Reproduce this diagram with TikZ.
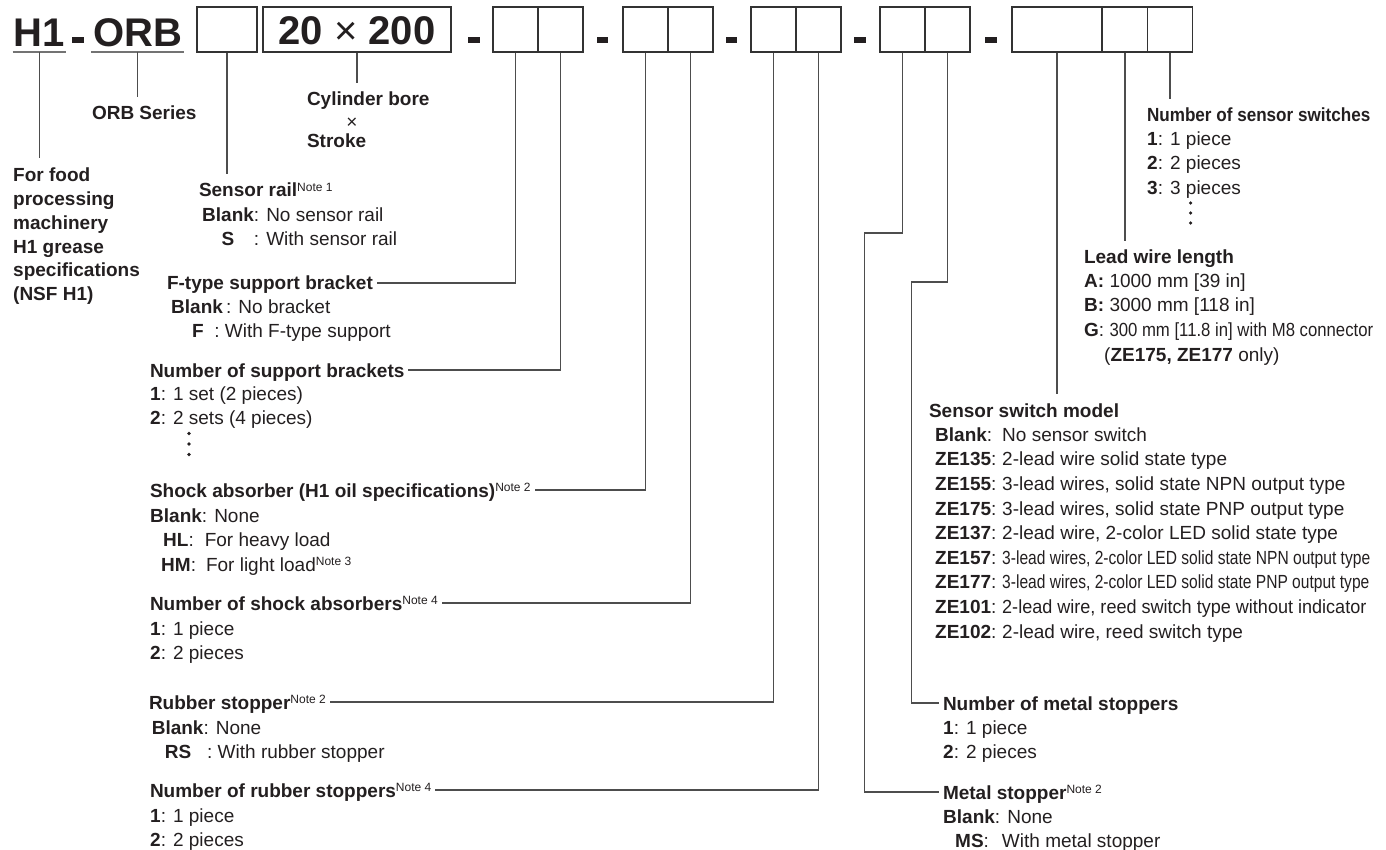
\documentclass[tikz,border=0pt]{standalone}
\usepackage{fontspec}
\setmainfont{Liberation Sans}
\usepackage{calc}
\usetikzlibrary{positioning}
\definecolor{ink}{HTML}{231F20}
\definecolor{wire}{HTML}{4D4D4D}
\newcommand{\noteref}[1]{\raisebox{5.5pt}{\mdseries\fontsize{12}{12}\selectfont Note #1}}
\newcommand{\keyw}[2]{\makebox[#1][l]{\textbf{#2}:}}

\tikzset{
  codetext/.style={font=\fontsize{40}{40}\selectfont\bfseries, text=ink, inner ysep=5pt, text depth=0pt, anchor=south west},
  codebox/.style={draw=black!80, line width=1.1pt, minimum height=45pt, inner sep=0pt, text height=31pt, text depth=0pt, font=\fontsize{40}{40}\selectfont\bfseries, text=ink},
  pairbox/.style={codebox, minimum width=45pt},
  sepmark/.style={fill=ink, minimum width=11.5pt, minimum height=6pt, inner sep=0pt},
  uline/.style={draw=black!55, line width=1.6pt},
  head/.style={font=\fontsize{19}{24}\selectfont\bfseries, text=ink, inner xsep=0pt, inner ysep=8pt, outer xsep=4pt, text height=15pt, text depth=1pt, anchor=base west, xshift=-4pt},
  opts/.style={font=\fontsize{19}{24.6}\selectfont, text=ink, align=left, anchor=north west, inner sep=0pt},
  leader/.style={draw=wire, line width=1.1pt},
}

\begin{document}
\begin{tikzpicture}[x=1pt, y=-1pt]
    \useasboundingbox (0,0) rectangle (1386,850);
    % model code
    \node[codetext, inner xsep=1pt] (h1) at (12.7,52) {H1};
    \node[sepmark] (d0) at (78,40) {};
    \node[codetext, inner xsep=2pt] (orb) at (91,52) {ORB};
    \draw[uline] (h1.south west) -- (h1.south east);
    \draw[uline] (orb.south west) -- (orb.south east);
    \node[codebox, minimum width=60pt] (b1) at (227,29.5) {};
    \node[codebox, minimum width=188pt] (b2) at (357,29.5) {20 {\mdseries ×} 200};
    \node[sepmark] (d1) at (474,40) {};
    \node[pairbox] (p1a) at (515.5,29.5) {};
    \node[pairbox] (p1b) at (560.5,29.5) {};
    \node[sepmark] (d2) at (602.5,40) {};
    \node[pairbox] (p2a) at (645.5,29.5) {};
    \node[pairbox] (p2b) at (690.5,29.5) {};
    \node[sepmark] (d3) at (731.5,40) {};
    \node[pairbox] (p3a) at (773.5,29.5) {};
    \node[pairbox] (p3b) at (818.5,29.5) {};
    \node[sepmark] (d4) at (860,40) {};
    \node[pairbox] (p4a) at (902.5,29.5) {};
    \node[pairbox] (p4b) at (947.5,29.5) {};
    \node[sepmark] (d5) at (991,40) {};
    \node[codebox, minimum width=90pt] (s1) at (1057,29.5) {};
    \node[pairbox] (s2) at (1125,29.5) {};
    \node[pairbox] (s3) at (1170,29.5) {};

    % left side
    \node[font=\fontsize{19}{23.7}\selectfont\bfseries, text=ink, align=left, anchor=north west, inner xsep=0pt, inner ysep=10pt] (food) at (13,158) {For food\\processing\\machinery\\H1 grease\\specifications\\(NSF H1)};
    \node[head] (orbser) at (92,120) {ORB Series};
    \node[head] (bore) at (307,106) {Cylinder bore};
    \node[font=\fontsize{19}{19}\selectfont, text=ink, inner sep=0pt] (times) at (352,123) {×};
    \node[head] (stroke) at (307,148) {Stroke};
    \node[head] (srail) at (199,197) {Sensor rail\noteref{1}};
    \node[opts] (srailopt) at (202,207.3) {\textbf{Blank}: No sensor rail\\\makebox[\widthof{\textbf{Blank}}]{\textbf{S}}: With sensor rail};
    \node[head] (ftype) at (167,290) {F-type support bracket};
    \node[opts] (ftypeopt) at (171,299.3) {\textbf{Blank}\,: No bracket\\\hspace*{21pt}\textbf{F}\ \ : With F-type support};
    \node[head] (nsup) at (150,377) {Number of support brackets};
    \node[opts] (nsupopt) at (150,386.3) {\textbf{1}: 1 set (2 pieces)\\\textbf{2}: 2 sets (4 pieces)};
    \foreach \y in {433.5,444,454.5} \fill[ink] (189,\y) circle (1.8pt);
    \node[head] (shock) at (150,497) {Shock absorber (H1 oil specifications)\noteref{2}};
    \node[opts] (shockopt) at (150,508.3) {\textbf{Blank}: None\\\hspace*{13pt}\textbf{HL}:\hspace{11pt}For heavy load\\\hspace*{11pt}\textbf{HM}:\hspace{10pt}For light load\noteref{3}};
    \node[head] (nshock) at (150,610) {Number of shock absorbers\noteref{4}};
    \node[opts] (nshockopt) at (150,621.3) {\textbf{1}: 1 piece\\\textbf{2}: 2 pieces};
    \node[head] (rubber) at (149,709) {Rubber stopper\noteref{2}};
    \node[opts] (rubberopt) at (151.6,720.3) {\textbf{Blank}: None\\\hspace*{13pt}\textbf{RS}\hspace{16pt}: With rubber stopper};
    \node[head] (nrubber) at (150,797) {Number of rubber stoppers\noteref{4}};
    \node[opts] (nrubberopt) at (150,808.3) {\textbf{1}: 1 piece\\\textbf{2}: 2 pieces};

    % right side
    \node[head] (nsw) at (1147,122) {\scalebox{0.9}[1]{Number of sensor switches}};
    \node[opts] (nswopt) at (1147,131.3) {\textbf{1}: 1 piece\\\textbf{2}: 2 pieces\\\textbf{3}: 3 pieces};
    \foreach \y in {203,213,223} \fill[ink] (1190.6,\y) circle (1.8pt);
    \node[head] (wlen) at (1084,264) {Lead wire length};
    \node[opts] (wlenopt) at (1084,273.3) {\textbf{A:} 1000 mm [39 in]\\\textbf{B:} 3000 mm [118 in]\\\textbf{G}: \scalebox{0.88}[1]{300 mm [11.8 in] with M8 connector}\\\hspace*{20pt}(\textbf{ZE175, ZE177} only)};
    \node[head] (model) at (929,417) {Sensor switch model};
    \node[opts] (modelopt) at (935,427.3) {%
        \keyw{67pt}{Blank}No sensor switch\\
        \keyw{67pt}{ZE135}2-lead wire solid state type\\
        \keyw{67pt}{ZE155}3-lead wires, solid state NPN output type\\
        \keyw{67pt}{ZE175}3-lead wires, solid state PNP output type\\
        \keyw{67pt}{ZE137}2-lead wire, 2-color LED solid state type\\
        \keyw{67pt}{ZE157}\scalebox{0.82}[1]{3-lead wires, 2-color LED solid state NPN output type}\\
        \keyw{67pt}{ZE177}\scalebox{0.82}[1]{3-lead wires, 2-color LED solid state PNP output type}\\
        \keyw{67pt}{ZE101}\scalebox{0.95}[1]{2-lead wire, reed switch type without indicator}\\
        \keyw{67pt}{ZE102}2-lead wire, reed switch type};
    \node[head] (nmetal) at (943,710) {Number of metal stoppers};
    \node[opts] (nmetalopt) at (943,720.3) {\textbf{1}: 1 piece\\\textbf{2}: 2 pieces};
    \node[head] (metal) at (943,799) {Metal stopper\noteref{2}};
    \node[opts] (metalopt) at (943,809.3) {\textbf{Blank}: None\\\hspace*{12pt}\textbf{MS}:\hspace{13pt}With metal stopper};

    % leaders
    \draw[leader] (h1.south) -- (h1.south |- food.north);
    \draw[leader] (orb.south) -- (orb.south |- orbser.north);
    \draw[leader] (b1.south) -- (b1.south |- srail.north);
    \draw[leader] (b2.south) -- (b2.south |- bore.north);
    \draw[leader] (p1a.south) |- (ftype.east);
    \draw[leader] (p1b.south) |- (nsup.east);
    \draw[leader] (p2a.south) |- (shock.east);
    \draw[leader] (p2b.south) |- (nshock.east);
    \draw[leader] (p3a.south) |- (rubber.east);
    \draw[leader] (p3b.south) |- (nrubber.east);
    \draw[leader] (p4a.south) |- (864.5,233) |- (metal.west);
    \draw[leader] (p4b.south) |- (911.5,282) |- (nmetal.west);
    \draw[leader] (s1.south) -- (s1.south |- model.north);
    \draw[leader] (s2.south) -- (s2.south |- wlen.north);
    \draw[leader] (s3.south) -- (s3.south |- nsw.north);
\end{tikzpicture}
\end{document}
